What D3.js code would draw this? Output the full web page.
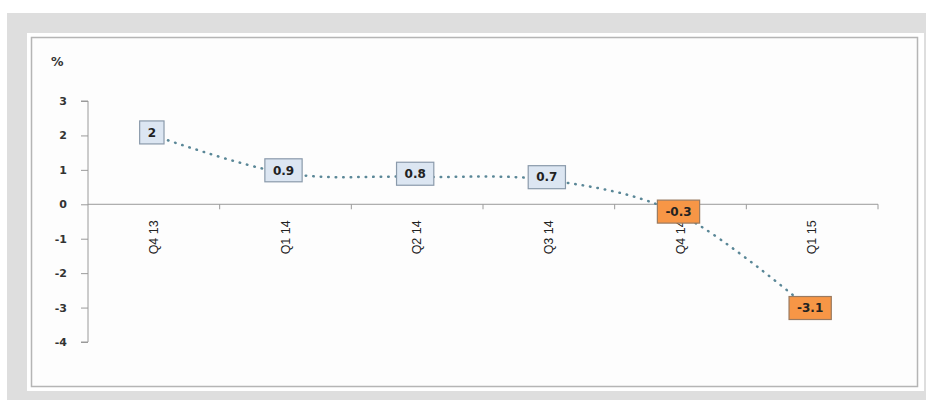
<!DOCTYPE html>
<meta charset="utf-8">
<style>
body { margin: 0; background: #fff; }
.tick text { font-family: "DejaVu Sans", Verdana, sans-serif; }
.xaxis text { font-family: "Liberation Sans Narrow", "Liberation Sans", Arial, sans-serif; font-size: 12.5px; fill: #222; }
.yaxis text { font-size: 11px; font-weight: bold; fill: #333; }
.lbl { font-family: "DejaVu Sans", Verdana, sans-serif; font-size: 12px; font-weight: bold; fill: #222; }
</style>
<body>
<script src="https://cdn.jsdelivr.net/npm/d3@7"></script>
<script>

// quarters and % change
var quarters = ["Q4 13", "Q1 14", "Q2 14", "Q3 14", "Q4 14", "Q1 15"];
var values = [2, 0.9, 0.8, 0.7, -0.3, -3.1];
var yTicks = [3, 2, 1, 0, -1, -2, -3, -4];

var W = 931, H = 400;
var svg = d3.select("body").append("svg")
    .attr("width", W)
    .attr("height", H);

// grey frame + white panel
svg.append("rect").attr("x", 7).attr("y", 13).attr("width", 919).attr("height", 387).attr("fill", "#dedede");
svg.append("rect").attr("x", 27).attr("y", 33).attr("width", 897).attr("height", 358).attr("fill", "#fff");
svg.append("rect").attr("x", 31.5).attr("y", 37.5).attr("width", 886).attr("height", 349)
    .attr("fill", "#fdfdfd").attr("stroke", "#b5b5b5").attr("stroke-width", 1.5);

var x = d3.scaleBand().domain(quarters).range([88, 878]);
var y = d3.scaleLinear().domain([-4, 3]).range([342, 101]);

// y axis
var yAxis = svg.append("g")
    .attr("class", "yaxis")
    .attr("transform", "translate(88,0)")
    .call(d3.axisLeft(y).tickValues(yTicks).tickSize(7).tickPadding(14)
      .tickFormat(function(d) { return d < 0 ? "-" + Math.abs(d) : d; }));
yAxis.selectAll("line, path").attr("stroke", "#9a9a9a");
yAxis.select(".domain").attr("d", "M-7," + y(3) + "H0V" + y(-4) + "H-7");

// x axis at zero, ticks at band edges
var xAxis = svg.append("g")
    .attr("class", "xaxis")
    .attr("transform", "translate(0," + y(0) + ")");
xAxis.append("line").attr("x1", 88).attr("x2", 878).attr("stroke", "#9a9a9a");
xAxis.selectAll(".edge")
    .data(quarters.slice(1).concat(["end"]))
    .enter().append("line")
    .attr("x1", function(d, i) { return i < quarters.length - 1 ? x(d) : x.range()[1]; })
    .attr("x2", function(d, i) { return i < quarters.length - 1 ? x(d) : x.range()[1]; })
    .attr("y1", 0).attr("y2", 5)
    .attr("stroke", "#9a9a9a");
xAxis.selectAll("text")
    .data(quarters)
    .enter().append("text")
    .attr("transform", function(d) {
      return "translate(" + (x(d) + x.bandwidth() / 2 + 4) + ",16) rotate(-90)";
    })
    .attr("text-anchor", "end")
    .text(function(d) { return d; });

// unit
svg.append("text")
    .attr("x", 51).attr("y", 66)
    .attr("font-family", "DejaVu Sans, sans-serif")
    .attr("font-size", 12.5).attr("font-weight", "bold").attr("fill", "#333")
    .text("%");

var pts = quarters.map(function(q, i) {
  return [x(q) + x.bandwidth() / 2, y(values[i])];
});

// smoothed dotted line
svg.append("path")
    .attr("d", d3.line().curve(d3.curveCardinal.tension(0))(pts))
    .attr("fill", "none")
    .attr("stroke", "#5a8797")
    .attr("stroke-width", 2.5)
    .attr("stroke-linecap", "round")
    .attr("stroke-dasharray", "0.5,7");

// data labels
var lab = svg.selectAll(".lab")
    .data(values)
    .enter().append("g")
    .attr("transform", function(d, i) { return "translate(" + (pts[i][0] - 2) + "," + (pts[i][1] - 3) + ")"; });

lab.append("text")
    .attr("class", "lbl")
    .attr("text-anchor", "middle")
    .attr("dy", "0.35em")
    .text(function(d) { return d < 0 ? "-" + Math.abs(d) : d; });

lab.insert("rect", "text")
    .each(function() {
      var b = this.parentNode.querySelector("text").getBBox();
      d3.select(this)
        .attr("x", b.x - 8).attr("y", -11.5)
        .attr("width", b.width + 16).attr("height", 23);
    })
    .attr("fill", function(d) { return d < 0 ? "#f79646" : "#dce6f2"; })
    .attr("stroke", function(d) { return d < 0 ? "#9a7a60" : "#8a9aab"; })
    .attr("stroke-width", 1.2);

</script>
</body>
